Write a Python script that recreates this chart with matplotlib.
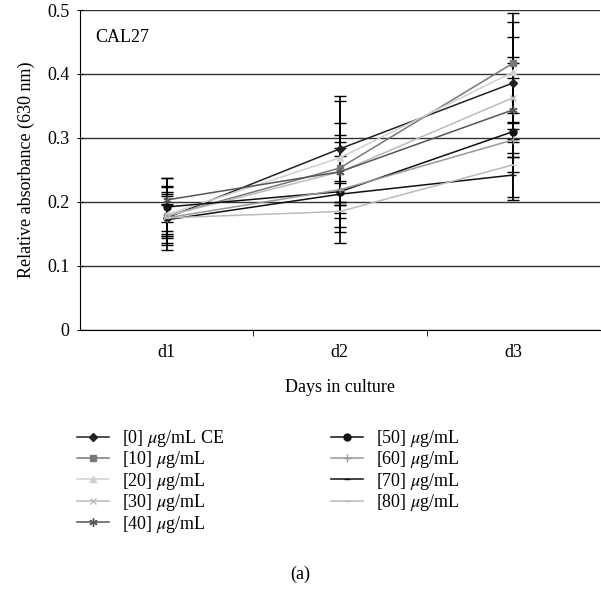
import matplotlib.pyplot as plt

plt.rcParams['font.family'] = ['Liberation Serif', 'DejaVu Serif']
plt.rcParams['mathtext.fontset'] = 'stix'

days = ["d1", "d2", "d3"]
labels = ["[0] $\\mu$g/mL CE", "[10] $\\mu$g/mL", "[20] $\\mu$g/mL", "[30] $\\mu$g/mL",
          "[40] $\\mu$g/mL", "[50] $\\mu$g/mL", "[60] $\\mu$g/mL", "[70] $\\mu$g/mL",
          "[80] $\\mu$g/mL"]

c0 = [0.175, 0.283, 0.386]
c10 = [0.178, 0.253, 0.417]
c20 = [0.180, 0.269, 0.403]
c30 = [0.178, 0.247, 0.363]
c40 = [0.203, 0.247, 0.344]
c50 = [0.192, 0.216, 0.310]
c60 = [0.175, 0.219, 0.297]
c70 = [0.172, 0.212, 0.242]
c80 = [0.175, 0.185, 0.258]

e0 = [0.040, 0.083, 0.072]
e10 = [0.045, 0.070, 0.078]
e20 = [0.030, 0.036, 0.078]
e30 = [0.035, 0.047, 0.064]
e40 = [0.034, 0.111, 0.050]
e50 = [0.045, 0.055, 0.107]
e60 = [0.050, 0.066, 0.027]
e70 = [0.025, 0.017, 0.035]
e80 = [0.020, 0.010, 0.012]

series = [c0, c10, c20, c30, c40, c50, c60, c70, c80]
errors = [e0, e10, e20, e30, e40, e50, e60, e70, e80]
colors = ["#222222", "#777777", "#d0d0d0", "#bbbbbb", "#555555",
          "#111111", "#999999", "#111111", "#bbbbbb"]
markers = ["D", "s", "^", "x", (6, 2, 0), "o", "+", "_", "_"]
msizes = [4, 4.5, 4.5, 5, 6, 5, 6, 4, 5]

fig = plt.figure(figsize=(6.01, 5.90), dpi=100)
ax = fig.add_axes([0.133, 0.441, 0.865, 0.542])

x = list(range(len(days)))
for vals, errs, col, mk, ms, lab in zip(series, errors, colors, markers, msizes, labels):
    ax.errorbar(x, vals, yerr=errs, color=col, ecolor="black", elinewidth=1.2,
                capsize=4, capthick=1.2, marker=mk, markersize=ms,
                markeredgewidth=1.0, linewidth=1.1, label=lab, zorder=3)

ax.set_ylim(0, 0.5)
ax.set_xlim(-0.5, 2.5)
ax.set_yticks([0, 0.1, 0.2, 0.3, 0.4, 0.5])
ax.set_yticklabels(["0", "0.1", "0.2", "0.3", "0.4", "0.5"])
ax.set_xticks(x)
ax.set_xticklabels(days)
ax.set_xticks([0.5, 1.5], minor=True)
ax.tick_params(axis="x", which="major", length=0, pad=10, labelsize=13)
ax.tick_params(axis="x", which="minor", length=4, direction="out")
ax.tick_params(axis="y", length=5, direction="inout", labelsize=13, pad=5)
ax.yaxis.grid(True, color="#333333", linewidth=1.0)
ax.set_axisbelow(True)
for s in ["top", "right"]:
    ax.spines[s].set_visible(False)

ax.set_ylabel("Relative absorbance (630 nm)", fontsize=13, labelpad=9)
ax.set_xlabel("Days in culture", fontsize=13, labelpad=13)
ax.text(0.03, 0.9, "CAL27", transform=ax.transAxes, fontsize=13)

handles, labs = ax.get_legend_handles_labels()
handles = [h[0] for h in handles]
fig.legend(handles, labs, ncol=2, loc="upper left", bbox_to_anchor=(0.101, 0.302),
           frameon=False, fontsize=13, handlelength=1.75, handletextpad=0.75,
           labelspacing=0.02, columnspacing=5.9)

fig.text(0.5, 0.018, "(a)", ha="center", fontsize=13)

fig.savefig("out.png", dpi=100)
